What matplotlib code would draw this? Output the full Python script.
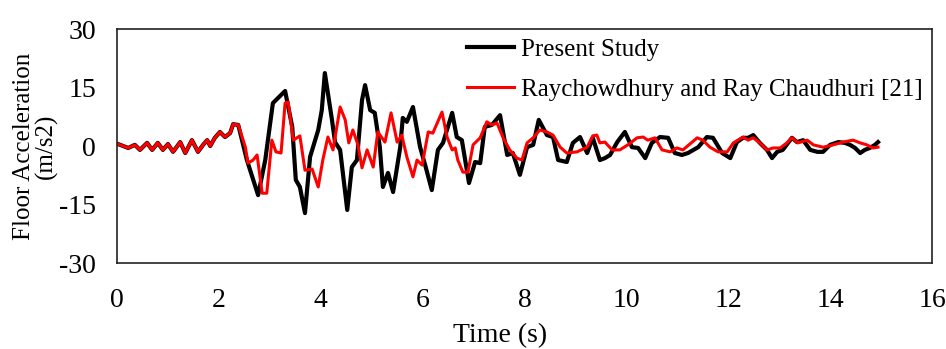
import matplotlib
matplotlib.use("Agg")
import matplotlib.pyplot as plt

plt.rcParams["font.family"] = ["Liberation Serif", "DejaVu Serif"]
plt.rcParams["axes.unicode_minus"] = False

# ---- data (time in s, acceleration in m/s2) ----
t_present = [0.02, 0.22, 0.35, 0.45, 0.59, 0.69, 0.80, 0.90, 1.00, 1.10, 1.24, 1.34,
             1.47, 1.59, 1.69, 1.77, 1.83, 1.92, 2.02, 2.12, 2.22, 2.28, 2.38,
             2.55, 2.77, 2.91, 3.06, 3.16, 3.30, 3.44, 3.51, 3.59, 3.69, 3.79, 3.95,
             4.02, 4.08, 4.22, 4.28, 4.38, 4.52, 4.61, 4.71, 4.81, 4.87, 4.97, 5.06,
             5.16, 5.22, 5.32, 5.42, 5.56, 5.61, 5.69, 5.81, 5.95, 6.05, 6.18, 6.30,
             6.40, 6.58, 6.67, 6.77, 6.91, 7.03, 7.13, 7.22, 7.36, 7.52, 7.66, 7.77,
             7.91, 8.05, 8.17, 8.28, 8.44, 8.56, 8.66, 8.83, 8.95, 9.09, 9.23, 9.34,
             9.48, 9.58, 9.68, 9.82, 9.97, 10.11, 10.23, 10.37, 10.50, 10.66, 10.82,
             10.95, 11.09, 11.21, 11.41, 11.58, 11.70, 11.88, 12.04, 12.17, 12.29,
             12.39, 12.49, 12.62, 12.76, 12.86, 12.96, 13.07, 13.25, 13.35, 13.47,
             13.61, 13.75, 13.86, 14.00, 14.16, 14.29, 14.39, 14.49, 14.59, 14.68,
             14.78, 14.88, 14.94]
a_present = [0.5, -0.5, 0.3, -1.0, 0.8, -1.0, 0.8, -1.0, 0.5, -1.5, 1.0, -1.8,
             1.5, -1.5, 0.3, 1.5, 0.0, 2.1, 3.6, 2.3, 3.3, 5.6, 5.4,
             -3.6, -12.6, -3.6, 11.0, 12.3, 14.1, 4.9, -8.7, -10.5, -17.2, -2.8, 4.1,
             9.2, 18.7, 6.7, 1.0, -1.0, -16.4, -5.4, -3.6, 11.8, 15.6, 9.2, 8.5,
             -0.3, -10.5, -6.9, -11.8, -0.3, 7.2, 6.2, 10.0, -0.3, -4.9, -11.3, -1.0,
             0.8, 8.5, 2.3, 1.5, -9.5, -4.1, -4.4, 4.9, 5.4, 7.9, -2.3, -1.8,
             -7.4, -0.3, 0.3, 6.7, 2.8, 2.3, -3.6, -4.1, 0.8, 2.3, -1.8, 2.1,
             -3.6, -3.1, -2.3, 1.0, 3.6, -0.3, -0.5, -3.1, 0.8, 2.3, 2.1,
             -1.8, -2.3, -1.8, -0.3, 2.3, 2.1, -1.8, -3.1, 1.0, 2.1,
             2.1, 2.8, 0.8, -1.0, -3.1, -1.5, -1.0, 2.1, 1.0, 1.5,
             -1.0, -1.5, -1.5, 0.3, 1.0, 0.8, 0.3, -0.5, -1.8, -1.0,
             -0.5, 0.3, 1.0]

t_ref21 = [0.02, 0.22, 0.35, 0.45, 0.59, 0.69, 0.80, 0.90, 1.00, 1.10, 1.24, 1.34,
           1.47, 1.59, 1.69, 1.77, 1.83, 1.92, 2.02, 2.12, 2.22, 2.28, 2.38,
           2.52, 2.57, 2.67, 2.75, 2.85, 2.94, 3.04, 3.12, 3.22, 3.30, 3.36, 3.46,
           3.59, 3.69, 3.83, 3.95, 4.04, 4.14, 4.24, 4.38, 4.48, 4.55, 4.63, 4.73,
           4.81, 4.91, 5.03, 5.12, 5.26, 5.38, 5.50, 5.59, 5.69, 5.81, 5.89, 5.99,
           6.11, 6.20, 6.38, 6.48, 6.58, 6.64, 6.69, 6.79, 6.89, 6.99, 7.13, 7.26,
           7.36, 7.46, 7.58, 7.71, 7.85, 7.95, 8.05, 8.17, 8.30, 8.44, 8.56, 8.70,
           8.83, 9.03, 9.23, 9.34, 9.42, 9.48, 9.58, 9.72, 9.87, 10.03, 10.21,
           10.33, 10.42, 10.56, 10.70, 10.86, 10.99, 11.11, 11.29, 11.39, 11.50,
           11.64, 11.80, 11.98, 12.10, 12.29, 12.39, 12.49, 12.62, 12.76, 12.88,
           13.02, 13.15, 13.25, 13.37, 13.55, 13.67, 13.86, 14.06, 14.25, 14.45,
           14.59, 14.72, 14.84, 14.94]
a_ref21 = [0.5, -0.5, 0.3, -1.0, 0.8, -1.0, 0.8, -1.0, 0.5, -1.5, 1.0, -1.8,
           1.5, -1.5, 0.3, 1.5, 0.0, 2.1, 3.6, 2.3, 3.3, 5.6, 5.4,
           -0.3, -4.4, -3.6, -2.3, -12.1, -12.1, 1.5, -1.5, -1.8, 11.0, 11.3, 1.5,
           2.6, -6.2, -5.9, -10.5, -3.6, 2.3, -1.0, 10.0, 6.7, 0.8, 4.1, 0.3,
           -5.6, -1.0, -5.4, 3.6, 1.0, 8.5, 1.0, 2.8, -2.8, -7.9, -3.6, -4.9,
           3.6, 3.3, 8.7, 2.3, -1.0, -0.5, -3.6, -6.7, -6.7, 0.3, 2.1, 6.2,
           5.4, 5.9, 2.1, -1.0, -3.1, -3.6, 0.8, 2.1, 4.1, 3.6, 2.8, -0.3,
           -1.8, -1.5, -0.3, 2.6, 2.8, 0.8, 1.0, -1.0, -1.0, 0.3, 2.1,
           2.3, 1.5, 2.1, -1.0, -1.5, -0.5, -1.0, 1.0, 2.1, 1.5,
           -0.3, -1.5, -1.5, 0.8, 2.3, 1.5, 2.1, 0.8, -1.0, -0.5,
           -0.5, 0.8, 2.1, 0.8, 1.5, 0.3, -0.3, 0.3, 1.0, 1.5,
           0.8, 0.3, -0.5, -0.3]

x_ticks = [0, 2, 4, 6, 8, 10, 12, 14, 16]
y_ticks = [-30, -15, 0, 15, 30]

# ---- figure ----
fig = plt.figure(figsize=(9.46, 3.49), dpi=100)
ax = fig.add_axes([0.1237, 0.2464, 0.8615, 0.6705])

ax.plot(t_present, a_present, color="black", lw=3.0, solid_joinstyle="round",
        label="Present Study")
ax.plot(t_ref21, a_ref21, color="red", lw=2.2, solid_joinstyle="round",
        label="Raychowdhury and Ray Chaudhuri [21]")

ax.set_xlim(0, 16)
ax.set_ylim(-30, 30)
ax.set_xticks(x_ticks)
ax.set_yticks(y_ticks)
ax.tick_params(axis="both", length=0, labelsize=20)
ax.tick_params(axis="x", pad=18)
ax.tick_params(axis="y", pad=15)

for sp in ax.spines.values():
    sp.set_linewidth(1.2)
    sp.set_color("#222222")

ax.set_xlabel("Time (s)", fontsize=20)
ax.xaxis.set_label_coords(0.47, -0.255)
ax.set_ylabel("Floor Acceleration\n(m/s2)", fontsize=18, linespacing=1.0, labelpad=1)

ax.legend(loc="upper right", frameon=False, fontsize=18, handlelength=1.9,
          handletextpad=0.25, labelspacing=0.7, borderaxespad=0.0,
          borderpad=0.38)

fig.savefig("out.png", dpi=100)
